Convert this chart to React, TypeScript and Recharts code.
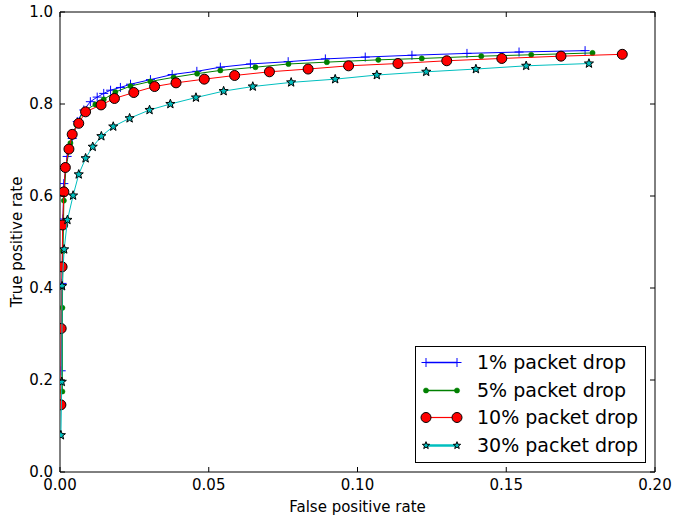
import React from 'react';
import { ScatterChart, Scatter, XAxis, YAxis, ReferenceArea, Legend } from 'recharts';

// ROC curves per packet-drop level (false positive rate / true positive rate)
const fpr1 = [0.0004, 0.0007, 0.001, 0.0013, 0.0024, 0.0041, 0.0058, 0.008, 0.0102, 0.0125, 0.0147, 0.017, 0.0203, 0.0237, 0.0304, 0.0377, 0.046, 0.0539, 0.064, 0.0767, 0.0892, 0.1026, 0.1183, 0.1368, 0.1543, 0.1765];
const tpr1 = [0.22, 0.41, 0.55, 0.627, 0.686, 0.725, 0.762, 0.787, 0.805, 0.815, 0.823, 0.83, 0.836, 0.843, 0.853, 0.864, 0.871, 0.88, 0.887, 0.892, 0.898, 0.902, 0.906, 0.91, 0.913, 0.916];

const fpr5 = [0.0008, 0.0008, 0.001, 0.0013, 0.002, 0.0035, 0.0055, 0.008, 0.0119, 0.0147, 0.0186, 0.0237, 0.0304, 0.0382, 0.0461, 0.0539, 0.0657, 0.0768, 0.0897, 0.107, 0.1216, 0.1416, 0.1584, 0.179];
const tpr5 = [0.175, 0.357, 0.48, 0.59, 0.66, 0.715, 0.755, 0.785, 0.799, 0.81, 0.826, 0.839, 0.849, 0.858, 0.866, 0.873, 0.88, 0.887, 0.891, 0.896, 0.899, 0.904, 0.907, 0.911];

const fpr10 = [0.0003, 0.0004, 0.0007, 0.0009, 0.0013, 0.0018, 0.003, 0.0041, 0.0063, 0.0086, 0.0138, 0.0183, 0.0248, 0.0318, 0.039, 0.0485, 0.0587, 0.0704, 0.0834, 0.097, 0.1136, 0.13, 0.1485, 0.1684, 0.189];
const tpr10 = [0.146, 0.312, 0.446, 0.537, 0.609, 0.662, 0.702, 0.734, 0.758, 0.783, 0.798, 0.812, 0.825, 0.838, 0.846, 0.854, 0.862, 0.87, 0.876, 0.883, 0.888, 0.894, 0.899, 0.904, 0.908];

const fpr30 = [0.0003, 0.0006, 0.0007, 0.0014, 0.0025, 0.0044, 0.0063, 0.0086, 0.011, 0.0139, 0.0179, 0.0234, 0.0301, 0.0371, 0.0457, 0.055, 0.0648, 0.0777, 0.0925, 0.1065, 0.1231, 0.1398, 0.1567, 0.1778];
const tpr30 = [0.08, 0.196, 0.404, 0.484, 0.548, 0.601, 0.647, 0.682, 0.707, 0.73, 0.751, 0.769, 0.787, 0.8, 0.814, 0.828, 0.838, 0.847, 0.854, 0.863, 0.87, 0.876, 0.883, 0.888];

const xTicks = [0, 0.05, 0.1, 0.15, 0.2];
const yTicks = [0, 0.2, 0.4, 0.6, 0.8, 1.0];

const seriesNames = ['1% packet drop', '5% packet drop', '10% packet drop', '30% packet drop'];

const toPoints = (xs: number[], ys: number[]) => xs.map((x, i) => ({ x, y: ys[i] }));

const series = [
  { name: seriesNames[0], data: toPoints(fpr1, tpr1), color: '#0000ff', marker: 'plus', legendWidth: 1.5 },
  { name: seriesNames[1], data: toPoints(fpr5, tpr5), color: '#008000', marker: 'dot', legendWidth: 1.5 },
  { name: seriesNames[2], data: toPoints(fpr10, tpr10), color: '#ff0000', marker: 'circle', legendWidth: 1.2 },
  { name: seriesNames[3], data: toPoints(fpr30, tpr30), color: '#00bfbf', marker: 'star', legendWidth: 2.5 },
];

// plot box (matches margins below)
const PLOT = { left: 60, top: 12, width: 595, height: 460 };
const FONT = 'DejaVu Sans';
const TICK_LEN = 5;

const starPoints = (cx: number, cy: number, R: number, r: number) => {
  const pts: string[] = [];
  for (let i = 0; i < 10; i++) {
    const rad = i % 2 === 0 ? R : r;
    const a = -Math.PI / 2 + (i * Math.PI) / 5;
    pts.push(`${cx + rad * Math.cos(a)},${cy + rad * Math.sin(a)}`);
  }
  return pts.join(' ');
};

const Marker = ({ cx, cy, kind, color, scale = 1 }: any) => {
  if (cx == null || cy == null) return null;
  if (kind === 'plus') {
    const a = 4.5 * scale;
    return <path d={`M${cx - a},${cy}H${cx + a}M${cx},${cy - a}V${cy + a}`} stroke={color} strokeWidth={1} fill="none" />;
  }
  if (kind === 'dot') {
    return <circle cx={cx} cy={cy} r={2.6 * scale} fill={color} stroke={color} strokeWidth={0.5} />;
  }
  if (kind === 'circle') {
    return <circle cx={cx} cy={cy} r={5 * scale} fill={color} stroke="#000" strokeWidth={1} />;
  }
  return <polygon points={starPoints(cx, cy, 4.8 * scale, 2 * scale)} fill={color} stroke="#000" strokeWidth={1} />;
};

const XTick = (props: any) => {
  const { x, y, payload } = props;
  const bottom = PLOT.top + PLOT.height;
  return (
    <g>
      <line x1={x} x2={x} y1={bottom} y2={bottom - TICK_LEN} stroke="#000" />
      <line x1={x} x2={x} y1={PLOT.top} y2={PLOT.top + TICK_LEN} stroke="#000" />
      <text x={x} y={y} dy="0.71em" textAnchor="middle" fontSize={15} fontFamily={FONT} fill="#000">
        {Number(payload.value).toFixed(2)}
      </text>
    </g>
  );
};

const YTick = (props: any) => {
  const { x, y, payload } = props;
  const right = PLOT.left + PLOT.width;
  return (
    <g>
      <line x1={PLOT.left} x2={PLOT.left + TICK_LEN} y1={y} y2={y} stroke="#000" />
      <line x1={right} x2={right - TICK_LEN} y1={y} y2={y} stroke="#000" />
      <text x={x} y={y} dy="0.36em" textAnchor="end" fontSize={15} fontFamily={FONT} fill="#000">
        {Number(payload.value).toFixed(1)}
      </text>
    </g>
  );
};

const LegendBox = () => (
  <div
    style={{
      width: 229,
      height: 115,
      border: '1px solid #000',
      background: '#fff',
      fontFamily: FONT,
      fontSize: 19,
      position: 'relative',
    }}
  >
    {series.map((s, i) => (
      <div key={s.name} style={{ position: 'absolute', left: 0, top: 2 + i * 27.7, height: 27, display: 'flex', alignItems: 'center' }}>
        <svg width={56} height={27} style={{ display: 'block' }}>
          <line x1={10} x2={41} y1={13.5} y2={13.5} stroke={s.color} strokeWidth={s.legendWidth} />
          <Marker cx={10} cy={13.5} kind={s.marker} color={s.color} scale={s.marker === 'star' ? 0.8 : 1} />
          <Marker cx={41} cy={13.5} kind={s.marker} color={s.color} scale={s.marker === 'star' ? 0.8 : 1} />
        </svg>
        <span style={{ marginLeft: 5, lineHeight: '27px', whiteSpace: 'nowrap' }}>{s.name}</span>
      </div>
    ))}
  </div>
);

const App = () => {
  return (
    <div style={{ position: 'absolute', left: 0, top: 0, width: 673, height: 516, background: '#fff' }}>
      <ScatterChart width={673} height={516} margin={{ top: 12, right: 18, bottom: 0, left: 0 }}>
        <XAxis
          type="number"
          dataKey="x"
          domain={[0, 0.2]}
          ticks={xTicks}
          allowDataOverflow
          height={44}
          axisLine={false}
          tickLine={false}
          tickSize={0}
          tickMargin={7}
          tick={XTick}
          label={{ value: 'False positive rate', position: 'insideBottom', offset: 4, fontSize: 15, fontFamily: FONT, fill: '#000' }}
        />
        <YAxis
          type="number"
          dataKey="y"
          domain={[0, 1]}
          ticks={yTicks}
          allowDataOverflow
          width={60}
          axisLine={false}
          tickLine={false}
          tickSize={0}
          tickMargin={7}
          tick={YTick}
          label={{ value: 'True positive rate', angle: -90, position: 'insideLeft', offset: 17, fontSize: 15, fontFamily: FONT, fill: '#000', style: { textAnchor: 'middle' } }}
        />
        <ReferenceArea x1={0} x2={0.2} y1={0} y2={1} fill="none" stroke="#000" strokeWidth={1} ifOverflow="visible" />
        {series.map((s) => (
          <Scatter
            key={s.name}
            name={s.name}
            data={s.data}
            fill={s.color}
            line={{ stroke: s.color, strokeWidth: 1 }}
            lineType="joint"
            shape={(p: any) => <Marker cx={p.cx} cy={p.cy} kind={s.marker} color={s.color} />}
            isAnimationActive={false}
          />
        ))}
        <Legend
          layout="vertical"
          align="center"
          verticalAlign="middle"
          wrapperStyle={{ left: 415, top: 346, width: 231, height: 117 }}
          content={() => <LegendBox />}
        />
      </ScatterChart>
    </div>
  );
};

export default App;
